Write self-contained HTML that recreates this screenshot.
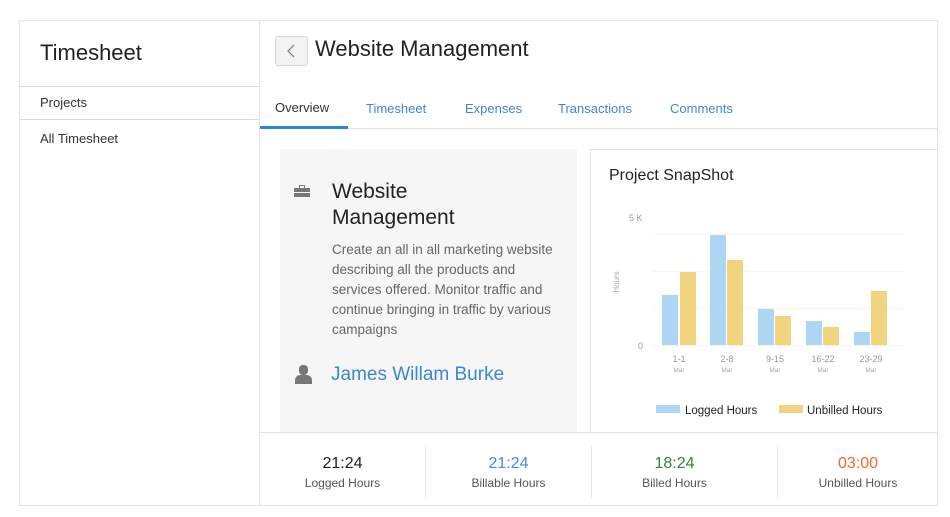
<!DOCTYPE html>
<html><head><meta charset="utf-8"><style>
*{margin:0;padding:0;box-sizing:border-box}
body{width:950px;height:517px;background:#fff;font-family:"Liberation Sans",sans-serif;position:relative;overflow:hidden;color:#222}
.a{position:absolute}
.t{white-space:nowrap}
</style></head><body>
<div class="a" style="left:19px;top:20px;width:919px;height:486px;border:1px solid #e2e2e2"></div>
<div class="a" style="left:259px;top:20px;width:1px;height:486px;background:#e2e2e2"></div>
<div class="a t" style="left:40px;top:40px;font-size:22px;color:#222">Timesheet</div>
<div class="a" style="left:19px;top:86px;width:240px;height:1px;background:#dcdcdc"></div>
<div class="a t" style="left:40px;top:95px;font-size:13px;color:#333">Projects</div>
<div class="a" style="left:19px;top:119px;width:240px;height:1px;background:#dcdcdc"></div>
<div class="a t" style="left:40px;top:131px;font-size:13px;color:#333">All Timesheet</div>

<div class="a" style="left:275px;top:36px;width:33px;height:30px;border:1px solid #d6d6d6;border-radius:3px;background:#f3f3f3"></div>
<svg class="a" style="left:275px;top:36px" width="33" height="30"><polyline points="19,9 13,15 19,21" fill="none" stroke="#777" stroke-width="1.2"/></svg>
<div class="a t" style="left:315px;top:36px;font-size:22px;color:#222">Website Management</div>

<div class="a t" style="left:275px;top:100px;font-size:13px;color:#333">Overview</div>
<div class="a t" style="left:366px;top:101px;font-size:13px;color:#3f86d0">Timesheet</div>
<div class="a t" style="left:465px;top:101px;font-size:13px;color:#3f86d0">Expenses</div>
<div class="a t" style="left:558px;top:101px;font-size:13px;color:#3f86d0">Transactions</div>
<div class="a t" style="left:670px;top:101px;font-size:13px;color:#3f86d0">Comments</div>
<div class="a" style="left:260px;top:128px;width:678px;height:1px;background:#e2e2e2"></div>
<div class="a" style="left:260px;top:126px;width:88px;height:3px;background:#2a86d9"></div>

<div class="a" style="left:280px;top:149px;width:297px;height:284px;background:#f6f6f6"></div>
<div class="a" style="left:294px;top:185px;width:16px;height:12px">
 <div class="a" style="left:5px;top:0;width:6px;height:3px;border:1px solid #777;border-bottom:none"></div>
 <div class="a" style="left:0;top:3px;width:16px;height:4px;background:#777"></div>
 <div class="a" style="left:0;top:8px;width:16px;height:4px;background:#777"></div>
</div>
<div class="a" style="left:332px;top:179px;font-size:21px;line-height:26px;color:#222">Website<br>Management</div>
<div class="a t" style="left:332px;top:240px;font-size:13.5px;line-height:20px;color:#666">Create an all in all marketing website<br>describing all the products and<br>services offered. Monitor traffic and<br>continue bringing in traffic by various<br>campaigns</div>
<div class="a" style="left:294px;top:365px;width:20px;height:20px">
 <div class="a" style="left:5px;top:0;width:9px;height:10px;border-radius:4px;background:#777"></div>
 <div class="a" style="left:1px;top:10px;width:17px;height:9px;border-radius:5px 5px 0 0;background:#777"></div>
</div>
<div class="a t" style="left:331px;top:364px;font-size:19px;color:#3f86d0">James Willam Burke</div>

<div class="a" style="left:590px;top:149px;width:348px;height:284px;border:1px solid #e4e4e4;border-right:none;border-bottom:none"></div>
<div class="a t" style="left:609px;top:167px;font-size:16px;color:#222">Project SnapShot</div>
<svg class="a" style="left:590px;top:150px" width="348" height="280" viewBox="590 150 348 280" font-family="Liberation Sans, sans-serif">
 <g stroke="#f6f6f6" stroke-width="1">
  <line x1="652" y1="234.5" x2="905" y2="234.5"/>
  <line x1="652" y1="271.5" x2="905" y2="271.5"/>
  <line x1="652" y1="308.5" x2="905" y2="308.5"/>
  <line x1="652" y1="345.5" x2="905" y2="345.5"/>
 </g>
 <text x="629" y="221" font-size="9" fill="#999">5 K</text>
 <text x="638" y="349" font-size="9" fill="#999">0</text>
 <text x="619" y="282" font-size="8" fill="#aaa" transform="rotate(-90 619 282)" text-anchor="middle">Hours</text>
 <g fill="#add6f5">
  <rect x="662" y="295" width="16" height="50"/>
  <rect x="710" y="235" width="16" height="110"/>
  <rect x="758" y="309" width="16" height="36"/>
  <rect x="806" y="321" width="16" height="24"/>
  <rect x="854" y="332" width="16" height="13"/>
 </g>
 <g fill="#f2d47e">
  <rect x="680" y="272" width="16" height="73"/>
  <rect x="727" y="260" width="16" height="85"/>
  <rect x="775" y="316" width="16" height="29"/>
  <rect x="823" y="327" width="16" height="18"/>
  <rect x="871" y="291" width="16" height="54"/>
 </g>
 <g font-size="9" fill="#999" text-anchor="middle">
  <text x="679" y="362">1-1</text><text x="727" y="362">2-8</text><text x="775" y="362">9-15</text><text x="823" y="362">16-22</text><text x="871" y="362">23-29</text>
 </g>
 <g font-size="6.5" fill="#aaa" text-anchor="middle">
  <text x="679" y="372">Mar</text><text x="727" y="372">Mar</text><text x="775" y="372">Mar</text><text x="823" y="372">Mar</text><text x="871" y="372">Mar</text>
 </g>
 <rect x="656" y="405" width="24" height="8" fill="#add6f5"/>
 <text x="685" y="414" font-size="11.5" fill="#222">Logged Hours</text>
 <rect x="779" y="405" width="24" height="8" fill="#f2d47e"/>
 <text x="807" y="414" font-size="11.5" fill="#222">Unbilled Hours</text>
</svg>

<div class="a" style="left:260px;top:432px;width:678px;height:1px;background:#e4e4e4"></div>
<div class="a" style="left:425px;top:446px;width:1px;height:52px;background:#e6e6e6"></div>
<div class="a" style="left:591px;top:446px;width:1px;height:52px;background:#e6e6e6"></div>
<div class="a" style="left:777px;top:446px;width:1px;height:52px;background:#e6e6e6"></div>
<div class="a" style="left:260px;top:455px;width:165px;text-align:center">
 <div style="font-size:16px;color:#222">21:24</div><div style="font-size:12px;color:#555;margin-top:3px">Logged Hours</div></div>
<div class="a" style="left:426px;top:455px;width:165px;text-align:center">
 <div style="font-size:16px;color:#3f8fe0">21:24</div><div style="font-size:12px;color:#555;margin-top:3px">Billable Hours</div></div>
<div class="a" style="left:592px;top:455px;width:185px;text-align:center;padding-right:20px">
 <div style="font-size:16px;color:#3d7d3d">18:24</div><div style="font-size:12px;color:#555;margin-top:3px">Billed Hours</div></div>
<div class="a" style="left:778px;top:455px;width:160px;text-align:center">
 <div style="font-size:16px;color:#f06a2e">03:00</div><div style="font-size:12px;color:#555;margin-top:3px">Unbilled Hours</div></div>
</body></html>
